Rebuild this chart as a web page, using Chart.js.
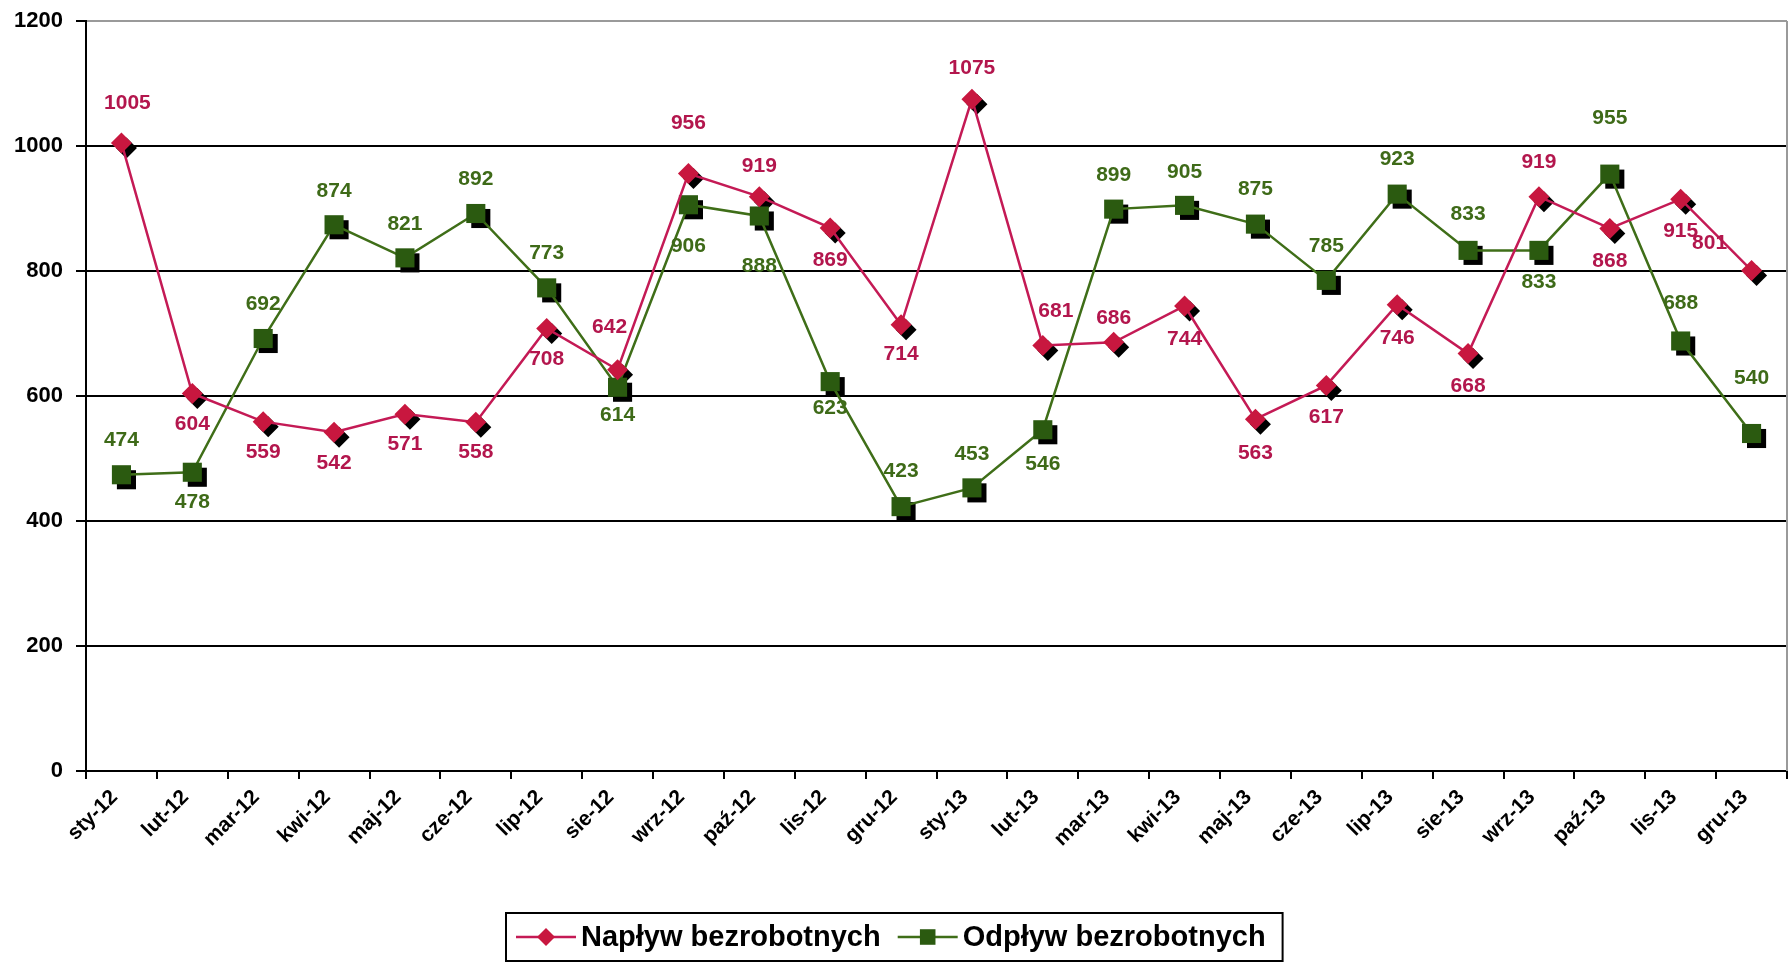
<!DOCTYPE html>
<html>
<head>
<meta charset="utf-8">
<script src="https://cdn.jsdelivr.net/npm/chart.js@4.4.0/dist/chart.umd.min.js"></script>
<style>
  html, body { margin: 0; padding: 0; background: #fff; overflow: hidden; }
</style>
</head>
<body>
<canvas id="chart" width="1788" height="962"></canvas>
<script>
// months on the x axis
const months = ['sty-12', 'lut-12', 'mar-12', 'kwi-12', 'maj-12', 'cze-12', 'lip-12', 'sie-12', 'wrz-12', 'paź-12', 'lis-12', 'gru-12',
                'sty-13', 'lut-13', 'mar-13', 'kwi-13', 'maj-13', 'cze-13', 'lip-13', 'sie-13', 'wrz-13', 'paź-13', 'lis-13', 'gru-13'];

// series values
const naplyw = [1005, 604, 559, 542, 571, 558, 708, 642, 956, 919, 869, 714,
                1075, 681, 686, 744, 563, 617, 746, 668, 919, 868, 915, 801];
const odplyw = [474, 478, 692, 874, 821, 892, 773, 614, 906, 888, 623, 423,
                453, 546, 899, 905, 875, 785, 923, 833, 833, 955, 688, 540];

const yMin = 0, yMax = 1200, yStep = 200;

// where each value label sits relative to its point [dx, dy]
const naplywLabelShift = [[6, -40], [0, 31], [0, 31], [0, 31], [0, 30], [0, 30], [0, 31], [-8, -43], [0, -50], [0, -30], [0, 32], [0, 29],
                          [0, -31], [13, -34], [0, -24], [0, 33], [0, 34], [0, 32], [0, 33], [0, 33], [0, -34], [0, 33], [0, 32], [-42, -27]];
const odplywLabelShift = [[0, -35], [0, 30], [0, -34], [0, -34], [0, -34], [0, -34], [0, -35], [0, 28], [0, 41], [0, 50], [0, 27], [0, -35],
                          [0, -34], [0, 34], [0, -34], [0, -33], [0, -35], [0, -34], [0, -35], [0, -36], [0, 32], [0, -56], [0, -38], [0, -55]];

const FONT = '"Liberation Sans", Arial, sans-serif';

function markerAt(ctx, style, radius, x, y) {
  ctx.beginPath();
  if (style === 'rectRot') {
    ctx.moveTo(x, y - radius);
    ctx.lineTo(x + radius, y);
    ctx.lineTo(x, y + radius);
    ctx.lineTo(x - radius, y);
  } else {
    const s = Math.SQRT1_2 * radius;
    ctx.rect(x - s, y - s, 2 * s, 2 * s);
  }
  ctx.closePath();
  ctx.fill();
}

// black drop shadow under every marker
const pointShadow = {
  id: 'pointShadow',
  beforeDatasetsDraw(chart) {
    const ctx = chart.ctx;
    ctx.save();
    ctx.fillStyle = '#000';
    chart.data.datasets.forEach((ds, i) => {
      chart.getDatasetMeta(i).data.forEach(pt => {
        markerAt(ctx, ds.pointStyle, ds.pointRadius, pt.x + 5, pt.y + 5);
      });
    });
    ctx.restore();
  }
};

// value labels
const valueLabels = {
  id: 'valueLabels',
  afterDatasetsDraw(chart) {
    const ctx = chart.ctx;
    ctx.save();
    ctx.font = 'bold 21px ' + FONT;
    ctx.textAlign = 'center';
    ctx.textBaseline = 'middle';
    chart.data.datasets.forEach((ds, i) => {
      ctx.fillStyle = ds.labelColor;
      chart.getDatasetMeta(i).data.forEach((pt, j) => {
        const s = ds.labelShift[j];
        ctx.fillText(String(ds.data[j]), pt.x + s[0], pt.y + s[1]);
      });
    });
    ctx.restore();
  }
};

// gray frame on the right, boxed legend at the bottom
const frameAndLegend = {
  id: 'frameAndLegend',
  afterDraw(chart) {
    const ctx = chart.ctx;
    const a = chart.chartArea;
    ctx.save();
    ctx.strokeStyle = '#9a9a9a';
    ctx.lineWidth = 2;
    ctx.beginPath();
    ctx.moveTo(a.right, a.top);
    ctx.lineTo(a.right, a.bottom);
    ctx.stroke();

    ctx.font = 'bold 29px ' + FONT;
    const lineW = 60, gap = 5, itemGap = 17, padL = 10, padR = 17;
    const items = chart.data.datasets.map(ds => ({ ds, w: ctx.measureText(ds.label).width }));
    let total = padL + padR + itemGap * (items.length - 1);
    items.forEach(it => { total += lineW + gap + it.w; });
    const left = Math.round((chart.width - total) / 2);
    const top = 913, h = 48, cy = top + h / 2;
    ctx.strokeStyle = '#000';
    ctx.lineWidth = 2;
    ctx.strokeRect(left, top, total, h);

    let x = left + padL;
    items.forEach(it => {
      ctx.strokeStyle = it.ds.borderColor;
      ctx.lineWidth = 2.5;
      ctx.beginPath();
      ctx.moveTo(x, cy);
      ctx.lineTo(x + lineW, cy);
      ctx.stroke();
      ctx.fillStyle = it.ds.pointBackgroundColor;
      markerAt(ctx, it.ds.pointStyle, it.ds.pointStyle === 'rect' ? 11 : 9, x + lineW / 2, cy);
      ctx.fillStyle = '#000';
      ctx.textAlign = 'left';
      ctx.textBaseline = 'middle';
      ctx.fillText(it.ds.label, x + lineW + gap, cy + 1);
      x += lineW + gap + it.w + itemGap;
    });
    ctx.restore();
  }
};

new Chart(document.getElementById('chart'), {
  type: 'line',
  data: {
    labels: months,
    datasets: [
      {
        label: 'Napływ bezrobotnych',
        data: naplyw,
        borderColor: '#C41A55',
        borderWidth: 2.5,
        pointStyle: 'rectRot',
        pointRadius: 10.5,
        pointBackgroundColor: '#C8173F',
        pointBorderColor: '#C8173F',
        pointBorderWidth: 0,
        labelColor: '#B3164D',
        labelShift: naplywLabelShift,
        tension: 0,
        clip: false
      },
      {
        label: 'Odpływ bezrobotnych',
        data: odplyw,
        borderColor: '#3F6E18',
        borderWidth: 2.5,
        pointStyle: 'rect',
        pointRadius: 13.5,
        pointBackgroundColor: '#2B5A10',
        pointBorderColor: '#2B5A10',
        pointBorderWidth: 0,
        labelColor: '#3E6A18',
        labelShift: odplywLabelShift,
        tension: 0,
        clip: false
      }
    ]
  },
  options: {
    responsive: false,
    animation: false,
    devicePixelRatio: 1,
    layout: { autoPadding: false, padding: { top: 21, right: 1, bottom: 0, left: 0 } },
    plugins: {
      legend: { display: false },
      tooltip: { enabled: false }
    },
    scales: {
      x: {
        offset: true,
        grid: { offset: true, drawOnChartArea: false, drawTicks: true, tickLength: 8, color: '#000', lineWidth: 2 },
        border: { color: '#000', width: 2 },
        ticks: {
          autoSkip: false,
          maxRotation: 45,
          minRotation: 45,
          labelOffset: -7,
          padding: 6,
          color: '#000',
          font: { family: FONT, size: 21, weight: 'bold' }
        },
        afterFit(scale) {
          scale.height = 191;
          scale.paddingLeft = 0;
          scale.paddingRight = 0;
        }
      },
      y: {
        min: yMin,
        max: yMax,
        ticks: {
          stepSize: yStep,
          padding: 13,
          color: '#000',
          font: { family: FONT, size: 22, weight: 'bold' },
          callback: v => String(v)
        },
        grid: {
          color: ctx => (ctx.tick && ctx.tick.value === yMax ? '#9a9a9a' : '#000'),
          lineWidth: 2,
          tickLength: 10,
          tickColor: '#000'
        },
        border: { color: '#000', width: 2 },
        afterFit(scale) {
          scale.width = 86;
          scale.paddingTop = 0;
          scale.paddingBottom = 0;
        }
      }
    }
  },
  plugins: [pointShadow, valueLabels, frameAndLegend]
});
</script>
</body>
</html>
